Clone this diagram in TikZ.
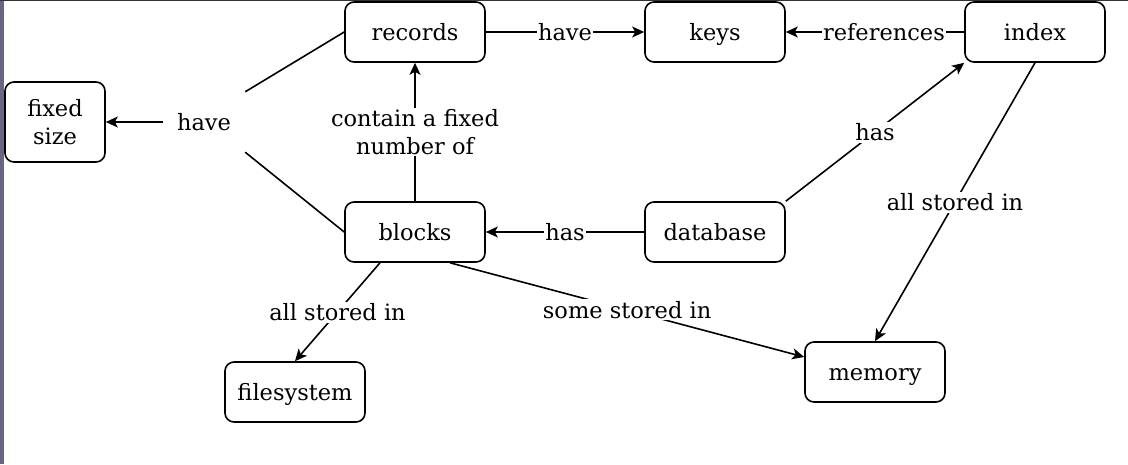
\documentclass[tikz,border=0pt]{standalone}
\usepackage{fontspec}
\setmainfont{DejaVu Serif}
\usetikzlibrary{arrows.meta}

\tikzset{
  oneline/.style={text height=18pt, text depth=1pt},
  boxbase/.style={draw, line width=1.6pt, rounded corners=9pt, minimum width=140pt,
    minimum height=60pt, align=center, font=\fontsize{22.5}{28}\selectfont},
  box/.style={boxbase, oneline},
  lblbase/.style={fill=white, inner sep=1pt, align=center, font=\fontsize{22.5}{28}\selectfont},
  lbl/.style={lblbase, oneline},
  conn/.style={line width=1.6pt, -{Stealth[length=12pt, width=11pt, inset=3pt]}},
  plain/.style={line width=1.6pt}
}

\begin{document}
\begin{tikzpicture}[x=1pt, y=-1pt]
  % Rahmen
  \useasboundingbox (0,0) rectangle (1128,464);
  \fill[white] (0,0) rectangle (1128,464);
  \fill[black!45!blue!20!gray] (0,0) rectangle (4,464);
  \draw[black!80, line width=1.2pt] (0,0.6) -- (1128,0.6);

  % Knoten
  \node[boxbase, minimum width=100pt, minimum height=80pt] (fixed) at (55,122) {fixed\\size};
  \node[box] (records) at (415,32) {records};
  \node[box] (keys) at (715,32) {keys};
  \node[box] (index) at (1035,32) {index};
  \node[box] (blocks) at (415,232) {blocks};
  \node[box] (database) at (715,232) {database};
  \node[box] (filesystem) at (295,392) {filesystem};
  \node[box] (memory) at (875,372) {memory};

  % Sammelpunkt "have"
  \node[lbl, fill=none, minimum width=82pt, minimum height=60pt] (have) at (204,122) {have};

  % Kanten
  \draw[plain] (records.west) -- (have.north east);
  \draw[plain] (blocks.west) -- (have.south east);
  \draw[conn] (have.west) -- (fixed.east);

  \draw[conn] (records) -- node[lbl] {have} (keys);
  \draw[conn] (index) -- node[lbl, pos=0.45] {references} (keys);
  \draw[conn] (blocks) -- node[lblbase] {contain a fixed\\number of} (records);
  \draw[conn] (database) -- node[lbl] {has} (blocks);
  \draw[conn] (database.north east) -- node[lbl] {has} (index.south west);
  \draw[conn] (index.south) -- node[lbl] {all stored in} (memory.north);
  \draw[conn] ([xshift=-35pt]blocks.south) -- node[lbl] {all stored in} (filesystem.north);
  \draw[conn] ([xshift=35pt]blocks.south) -- node[lbl] {some stored in} ([yshift=15pt]memory.west);
\end{tikzpicture}
\end{document}
